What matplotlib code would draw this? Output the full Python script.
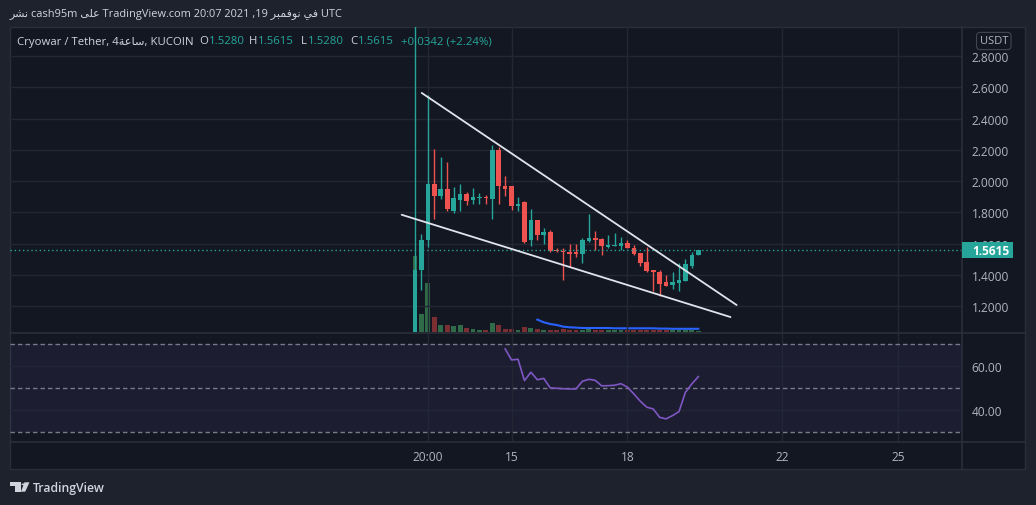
import matplotlib
matplotlib.use('Agg')
import matplotlib.pyplot as plt
from matplotlib.patches import Rectangle, Polygon, Circle
from matplotlib.lines import Line2D

plt.rcParams['font.family'] = ['Open Sans', 'DejaVu Sans']

# ---------------- data ----------------
opens = [0.95, 1.430, 1.621, 1.983, 1.908, 1.951, 1.806, 1.877, 1.919, 1.879,
         1.892, 1.895, 1.883, 2.202, 1.970, 1.966, 1.838, 1.868, 1.621, 1.753,
         1.657, 1.677, 1.557, 1.555, 1.547, 1.545, 1.534, 1.617, 1.636, 1.630,
         1.581, 1.587, 1.583, 1.604, 1.573, 1.541, 1.483, 1.430, 1.419, 1.353,
         1.338, 1.347, 1.364, 1.459, 1.528]
highs = [3.50, 1.664, 2.551, 2.206, 2.155, 2.123, 1.964, 1.983, 1.930, 1.957,
         1.926, 1.913, 2.232, 2.217, 2.034, 1.972, 1.900, 1.874, 1.823, 1.753,
         1.702, 1.685, 1.575, 1.575, 1.598, 1.598, 1.636, 1.790, 1.681, 1.636,
         1.656, 1.668, 1.645, 1.624, 1.592, 1.541, 1.581, 1.434, 1.434, 1.400,
         1.417, 1.475, 1.502, 1.545, 1.5615]
lows = [0.80, 1.302, 1.579, 1.755, 1.883, 1.806, 1.798, 1.806, 1.845, 1.855,
        1.857, 1.857, 1.760, 1.855, 1.902, 1.813, 1.811, 1.605, 1.583, 1.626,
        1.600, 1.547, 1.545, 1.368, 1.451, 1.517, 1.475, 1.609, 1.562, 1.530,
        1.573, 1.587, 1.562, 1.573, 1.528, 1.459, 1.417, 1.300, 1.268, 1.332,
        1.310, 1.300, 1.364, 1.443, 1.528]
closes = [1.430, 1.626, 1.983, 1.902, 1.951, 1.819, 1.894, 1.919, 1.870, 1.896,
          1.894, 1.892, 2.202, 1.966, 1.951, 1.838, 1.855, 1.609, 1.753, 1.653,
          1.677, 1.551, 1.551, 1.545, 1.537, 1.537, 1.624, 1.636, 1.626, 1.583,
          1.592, 1.594, 1.604, 1.573, 1.534, 1.477, 1.427, 1.417, 1.342, 1.332,
          1.355, 1.368, 1.470, 1.528, 1.5615]
volumes_k = [76.7, 18.3, 49.3, 15.3, 7.3, 7.3, 6.3, 7.3, 4.3, 3.3,
             2.3, 2.3, 9.3, 7.3, 3.3, 3.3, 2.3, 5.3, 4.3, 3.3,
             2.3, 2.3, 2.3, 3.3, 2.3, 2.3, 2.3, 3.3, 2.3, 2.3,
             2.3, 2.3, 2.3, 2.3, 2.3, 2.3, 2.3, 2.3, 2.0, 2.0,
             2.0, 2.0, 2.0, 2.0, 1.0]
vol_ma_start = 19
vol_ma_k = [12.7, 10.0, 8.3, 7.3, 5.7, 5.0, 4.7, 4.3, 4.3, 4.3, 4.3, 4.3,
            4.0, 4.0, 4.0, 4.0, 4.0, 4.0, 4.0, 3.7, 3.7, 3.5, 3.5, 3.5, 3.5, 3.5]
rsi_start = 14
rsi_values = [67.9, 62.9, 63.2, 53.5, 57.3, 53.9, 54.5, 50.2, 50.0, 49.8,
              49.7, 49.7, 53.2, 54.1, 53.6, 51.1, 51.2, 51.4, 52.1, 50.5,
              47.4, 44.1, 41.4, 40.6, 36.8, 36.1, 37.6, 39.4, 48.2, 52.0, 55.3]
last_price = 1.5615
price_change = 0.0342
pct_change = 2.24
upper_line_x = [1.04, 49.95]
upper_line_y = [2.564, 1.208]
lower_line_x = [-2.07, 49.0]
lower_line_y = [1.785, 1.131]
price_ticks = [1.2, 1.4, 1.6, 1.8, 2.0, 2.2, 2.4, 2.6, 2.8]
rsi_ticks = [40, 60]
rsi_levels = [30, 50, 70]
time_tick_pos = [2, 15, 33, 57, 75]
time_tick_labels = ['20:00', '15', '18', '22', '25']

# ---------------- figure ----------------
W, H = 1036, 506
fig = plt.figure(figsize=(W / 100, H / 100), dpi=100, facecolor='#1e222d')


def fx(px):
    return px / W


def fy(py):
    return 1 - py / H


UP, DOWN = '#26a69a', '#ef5350'
GRID = '#232733'
SEP = '#2a2e39'
AXTXT = '#b2b5be'

# chart background panel
fig.add_artist(Rectangle((fx(10), fy(470)), fx(1025) - fx(10), (470 - 27.5) / H,
                         transform=fig.transFigure, facecolor='#131722',
                         edgecolor=SEP, lw=1, zorder=-2))

X0, X1 = 10, 962.3
ax = fig.add_axes([fx(X0), fy(333.3), fx(X1) - fx(X0), (333.3 - 28) / H])
axv = ax.twinx()
axr = fig.add_axes([fx(X0), fy(443.3), fx(X1) - fx(X0), (443.3 - 334.3) / H])

for a in (ax, axv, axr):
    a.set_facecolor('none')
    for s in a.spines.values():
        s.set_visible(False)

ax.set_zorder(2)
axv.set_zorder(1)
axr.set_zorder(1)

n = len(closes)
xs = list(range(n))
colors = [UP if c >= o else DOWN for o, c in zip(opens, closes)]
vcolors = ['#2f6b49' if c >= o else '#7b2f33' for o, c in zip(opens, closes)]

# volume
axv.bar(xs, volumes_k, width=0.76, color=vcolors, zorder=1)
axv.plot(range(vol_ma_start, vol_ma_start + len(vol_ma_k)), vol_ma_k,
         color='#2962ff', lw=1.5, zorder=2)
axv.set_ylim(0, 305.3)
axv.set_yticks([])

# candles
ax.vlines(xs, lows, highs, colors=colors, lw=1.0, zorder=3)
bottoms = [min(o, c) for o, c in zip(opens, closes)]
heights = [max(abs(c - o), 0.005) for o, c in zip(opens, closes)]
ax.bar(xs, heights, bottom=bottoms, width=0.72, color=colors, zorder=4)

# trend lines
ax.plot(upper_line_x, upper_line_y, color='#e0e3eb', lw=1.3, zorder=6,
        solid_capstyle='round')
ax.plot(lower_line_x, lower_line_y, color='#e0e3eb', lw=1.3, zorder=6,
        solid_capstyle='round')

# last price dotted line
ax.axhline(last_price, color=UP, lw=1.0, linestyle=(0, (1, 2)), zorder=5)

ax.set_xlim(-62.9, 85.0)
ax.set_ylim(1.0335, 2.9855)
axv.set_xlim(-62.9, 85.0)
ax.set_yticks(price_ticks)
ax.set_yticklabels(['%.4f' % p for p in price_ticks])
ax.yaxis.tick_right()
ax.set_xticks(time_tick_pos)
ax.set_xticklabels([])
ax.tick_params(axis='both', length=0)
ax.tick_params(axis='y', pad=6.8, labelcolor=AXTXT, labelsize=8.6)
ax.grid(True, color=GRID, lw=1.0, zorder=0)
ax.set_axisbelow(True)

# RSI pane
axr.set_xlim(-62.9, 85.0)
axr.set_ylim(25.45, 75.0)
axr.axhspan(30, 70, color='#7e57c2', alpha=0.1, lw=0, zorder=0)
for lv in rsi_levels:
    axr.axhline(lv, color='#787b86', lw=1.0, dashes=(3.2, 2.2), zorder=1)
axr.plot(range(rsi_start, rsi_start + len(rsi_values)), rsi_values,
         color='#7e57c2', lw=1.2, zorder=3)
axr.set_yticks(rsi_ticks)
axr.set_yticklabels(['%.2f' % v for v in rsi_ticks])
axr.yaxis.tick_right()
axr.set_xticks(time_tick_pos)
axr.set_xticklabels(time_tick_labels)
axr.tick_params(axis='both', length=0, labelcolor=AXTXT, labelsize=8.6)
axr.tick_params(axis='y', pad=6.8)
axr.tick_params(axis='x', pad=5.6)
axr.grid(True, color=GRID, lw=1.0, zorder=0)
axr.set_axisbelow(True)

# separators
for (xa, ya, xb, yb) in [(10, 333.8, 1025, 333.8), (10, 443.3, 1025, 443.3),
                         (962.3, 28, 962.3, 470)]:
    fig.add_artist(Line2D([fx(xa), fx(xb)], [fy(ya), fy(yb)], color=SEP,
                          lw=1.2, transform=fig.transFigure, zorder=3))

# last price label on the price axis
fig.add_artist(Rectangle((fx(962.3), fy(259.3)), fx(1013.3) - fx(962.3), 16 / H,
                         transform=fig.transFigure, facecolor=UP,
                         edgecolor='none', zorder=10))
fig.text(fx(972.0), fy(251.3), '%.4f' % last_price, color='white',
         fontsize=8.6, fontweight='bold', ha='left', va='center', zorder=11)

# USDT currency box
fig.text(fx(993.8), fy(42.0), 'USDT', color=AXTXT, fontsize=8.0,
         ha='center', va='center', zorder=11,
         bbox=dict(boxstyle='round,pad=0.28,rounding_size=0.35',
                   fc='#131722', ec='#434651', lw=0.8))

# header (Arabic words given in visual order, shaped presentation forms)
nashr = '\ufeae\ufeb8\ufee7'
ala = '\ufef0\ufee0\ufecb'
novembr = '\ufeae\ufe92\ufee4\ufed3\ufeee\ufee7'
fi = '\ufef2\ufed3'
saa = '\ufe94\ufecb\ufe8e\ufeb3'
header = f'{nashr} cash95m {ala} TradingView.com 20:07 2021 ,19 {novembr} {fi} UTC'
fig.text(fx(10), fy(15.0), header, color='#d1d4dc', fontsize=7.9,
         ha='left', va='center')

# legend row
renderer = fig.canvas.get_renderer()
LEG_Y = fy(42.0)
LEG_FS = 8.2


def put(x_px, s, color, size=LEG_FS):
    t = fig.text(fx(x_px), LEG_Y, s, color=color, fontsize=size,
                 ha='left', va='center', zorder=11)
    bb = t.get_window_extent(renderer)
    return bb.x1


put(17.3, f'Cryowar / Tether, 4{saa}, KUCOIN', '#d1d4dc')
ohlc_last = [('O', opens[-1]), ('H', highs[-1]), ('L', lows[-1]), ('C', closes[-1])]
starts = [199.3, 249.0, 301.0, 350.7]
for (lab, val), sx in zip(ohlc_last, starts):
    xe = put(sx, lab, '#d1d4dc')
    put(xe + 0.5, '%.4f' % val, UP)
put(401.0, '+%.4f (+%.2f%%)' % (price_change, pct_change), UP)

# footer logo
lc = '#d1d4dc'
fig.add_artist(Polygon([(fx(10), fy(483.3)), (fx(20.7), fy(483.3)), (fx(20.7), fy(492.7)),
                        (fx(15.2), fy(492.7)), (fx(15.2), fy(487.0)), (fx(10), fy(487.0))],
                       closed=True, transform=fig.transFigure, fc=lc, ec='none'))
fig.add_artist(Circle((fx(23.2), fy(485.3)), 1.7 / W, transform=fig.transFigure,
                      fc=lc, ec='none'))
fig.add_artist(Polygon([(fx(24.5), fy(483.3)), (fx(29.5), fy(483.3)), (fx(25.2), fy(492.7)),
                        (fx(20.9), fy(492.7))],
                       closed=True, transform=fig.transFigure, fc=lc, ec='none'))
fig.text(fx(33.0), fy(488.8), 'TradingView', color=lc, fontsize=8.8,
         fontweight='semibold', ha='left', va='center')

fig.savefig('out.png', dpi=100, facecolor=fig.get_facecolor())
